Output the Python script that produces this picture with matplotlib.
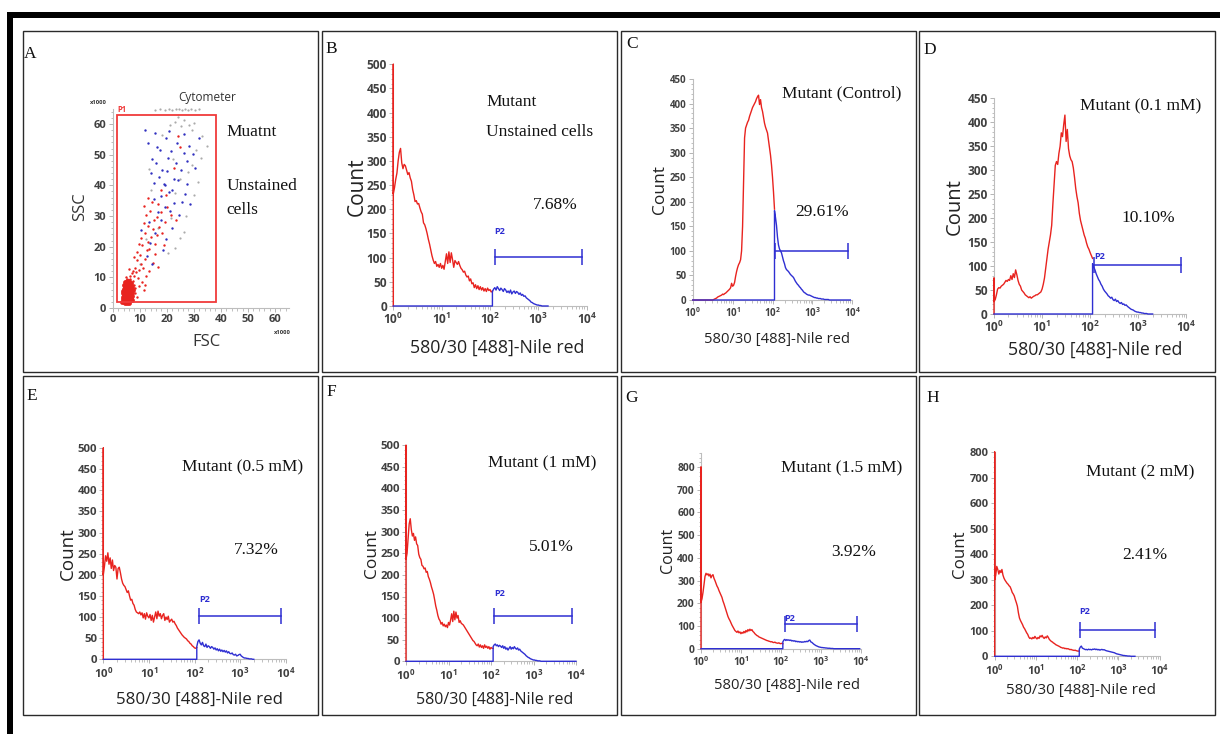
import numpy as np
import matplotlib
matplotlib.use("Agg")
import matplotlib.pyplot as plt
from matplotlib.patches import Rectangle
from matplotlib.ticker import LogLocator, MultipleLocator, FuncFormatter, NullFormatter

plt.rcParams['font.family'] = ['Open Sans', 'DejaVu Sans']
plt.rcParams['mathtext.default'] = 'regular'
SERIF = ['Liberation Serif', 'DejaVu Serif']

RED = '#e8231f'
BLUE = '#2f2fd2'
GRAY = '#ababab'

# ---------------------------------------------------------------- data ----
# Panel A: FSC / SSC events (x1000)
p1_core = [
    (3.6, 2.1), (3.9, 2.8), (4.1, 1.9), (4.3, 2.6), (4.5, 3.3), (4.7, 2.2), (4.9, 2.9), (5.1, 2.0),
    (5.3, 2.7), (5.5, 3.4), (5.7, 2.4), (5.9, 3.0), (6.1, 2.3), (6.3, 3.5), (6.6, 2.8), (6.9, 3.3),
    (3.8, 3.6), (4.0, 4.4), (4.2, 3.9), (4.4, 4.8), (4.6, 4.0), (4.8, 5.1), (5.0, 4.3), (5.2, 3.8),
    (5.4, 4.7), (5.6, 5.3), (5.8, 4.1), (6.0, 4.9), (6.2, 4.2), (6.4, 5.5), (6.7, 4.6), (7.0, 4.0),
    (7.3, 5.0), (3.9, 5.5), (4.1, 6.3), (4.4, 5.9), (4.6, 6.8), (4.9, 6.1), (5.1, 5.7), (5.3, 6.5),
    (5.5, 7.2), (5.8, 6.2), (6.0, 6.9), (6.3, 6.0), (6.6, 7.4), (6.9, 6.5), (7.2, 7.0), (7.6, 5.8),
    (4.3, 7.6), (4.7, 8.4), (5.0, 7.8), (5.4, 8.9), (5.7, 8.1), (6.1, 8.7), (6.8, 8.2),
    (4.5, 1.6), (5.2, 1.5), (6.0, 1.7), (3.7, 4.9), (4.0, 3.1), (5.0, 3.6), (5.6, 2.1), (6.4, 3.9),
    (7.1, 2.6), (4.8, 3.8), (5.5, 4.2), (6.2, 5.2), (4.2, 5.0), (5.9, 3.7), (6.8, 5.6),
]
p1_red = [
    (6.5, 9.3), (7.4, 8.8), (7.8, 7.6), (8.1, 6.6), (5.3, 9.6), (4.9, 10.2), (6.3, 10.5),
    (7.9, 10.4), (8.6, 11.6), (9.3, 9.8), (8.2, 13.2), (9.9, 12.4), (10.6, 14.3), (7.5, 12.0),
    (9.0, 15.6), (11.2, 13.1), (10.1, 17.2), (11.8, 16.0), (12.5, 18.8), (8.8, 18.4), (11.0, 20.6),
    (12.9, 21.5), (13.6, 19.4), (10.4, 22.8), (12.1, 24.5), (14.2, 23.2), (13.1, 26.6), (11.6, 27.8),
    (14.8, 25.9), (15.6, 21.0), (16.4, 23.8), (12.4, 30.2), (13.8, 31.5), (11.5, 33.4), (15.2, 28.7),
    (17.0, 26.3), (16.2, 29.8), (18.4, 24.6), (17.7, 31.2), (19.3, 28.2), (14.5, 34.5), (13.0, 35.8),
    (16.8, 34.0), (20.2, 33.0), (9.6, 7.2), (10.8, 8.5), (12.3, 10.3), (11.4, 5.8), (13.4, 12.1),
    (14.9, 14.8), (8.4, 4.9), (9.1, 3.6), (12.0, 7.4), (15.8, 17.6), (16.9, 13.5), (18.8, 20.4),
    (21.5, 30.4), (19.8, 36.8), (24.3, 56.0), (25.0, 52.5), (22.8, 45.5), (23.4, 28.7), (7.0, 11.3),
    (6.2, 12.7), (8.0, 16.5), (9.8, 20.8), (18.0, 38.5),
]
p1_blue = [
    (12.0, 58.2), (15.8, 57.2), (13.2, 53.8), (17.4, 51.6), (21.5, 51.2), (23.8, 53.8), (26.2, 50.4),
    (31.8, 55.4), (28.2, 52.8), (19.8, 55.5), (16.0, 47.2), (18.3, 45.0), (14.0, 44.0), (20.2, 44.6),
    (22.6, 42.2), (18.9, 40.3), (19.5, 40.0), (24.2, 41.6), (27.5, 40.4), (15.2, 35.4), (17.8, 36.4),
    (20.8, 37.8), (22.8, 34.4), (19.2, 32.8), (16.8, 31.2), (21.2, 31.6), (25.6, 34.6), (28.6, 33.8),
    (13.4, 28.0), (15.8, 24.5), (12.6, 16.8), (14.6, 14.2), (19.6, 22.4), (21.8, 26.2), (17.8, 28.8),
    (13.9, 21.2), (23.5, 47.2), (20.6, 48.8), (25.2, 45.0), (17.2, 42.6), (15.1, 40.8), (22.1, 38.6),
    (26.8, 37.2), (24.6, 30.4), (18.6, 18.8), (10.4, 25.6), (27.6, 47.9), (29.8, 50.2), (30.6, 45.8),
    (16.2, 52.6), (14.4, 48.5), (21.0, 57.8), (26.4, 56.6),
]
p1_gray = [
    (15.8, 64.6), (17.5, 64.9), (19.2, 64.7), (20.8, 64.9), (22.1, 64.6), (23.4, 64.8), (24.6, 64.9),
    (25.5, 64.6), (26.7, 64.8), (27.9, 64.7), (29.0, 64.9), (30.4, 64.6), (31.8, 64.8), (24.2, 62.4),
    (23.0, 60.5), (26.4, 61.3), (28.1, 59.6), (30.2, 60.4), (25.3, 59.2), (21.2, 59.8), (29.4, 58.2),
    (33.0, 56.2), (35.0, 52.8), (30.8, 51.4), (32.6, 49.0), (29.2, 46.8), (22.4, 48.6), (27.8, 44.2),
    (25.0, 42.2), (23.2, 37.5), (30.0, 36.8), (21.4, 29.4), (24.8, 22.8), (23.1, 19.6), (26.2, 24.8),
    (14.2, 38.4), (12.2, 22.5), (10.2, 14.2), (18.4, 56.4), (16.6, 26.2), (20.4, 18.0), (27.0, 30.0),
    (13.6, 45.2), (31.4, 41.0),
]
p1_gate = (1.6, 2.0, 38.2, 62.9)          # FSC lo, SSC lo, FSC hi, SSC hi

# Histograms: counts per channel, channel width 0.025 decade starting at 10^0.
# Red = all events up to the P2 gate, blue = events from the gate channel on.
LOG_STEP = 0.025
GATE_CH = 82

spike_B = 500
red_B = [232, 245, 262, 275, 300, 318, 326, 296, 284, 293, 290, 281, 272, 276, 265, 258, 241, 230,
         216, 218, 211, 212, 203, 195, 190, 172, 168, 160, 150, 138, 128, 116, 104, 95, 88, 92, 82,
         86, 80, 88, 78, 84, 76, 92, 108, 88, 112, 90, 110, 96, 80, 94, 90, 86, 92, 84, 78, 75, 70,
         72, 64, 60, 62, 52, 56, 46, 48, 38, 44, 36, 42, 34, 40, 33, 38, 31, 36, 30, 37, 32, 34, 29, 31]
blue_B = [30, 35, 38, 33, 40, 36, 32, 37, 34, 30, 36, 33, 28, 31, 27, 33, 25, 29, 31, 26, 30, 28, 24,
          27, 22, 24, 20, 21, 17, 15, 13, 11, 8, 7, 5, 4, 3, 2, 2, 1, 1, 0, 0, 0, 0, 0, 0]

spike_C = 0
red_C = [0] * 21 + [1, 2, 3, 4, 6, 7, 8, 9, 10, 12, 11, 13, 14, 16, 18, 20, 22, 25, 34, 28, 30, 36,
         48, 58, 66, 72, 76, 82, 100, 150, 240, 330, 350, 356, 362, 366, 374, 380, 386, 392, 396,
         400, 404, 410, 414, 417, 398, 408, 392, 384, 372, 360, 352, 346, 340, 325, 310, 295, 275,
         250, 220, 185]
blue_C = [182, 168, 152, 128, 112, 104, 100, 96, 88, 80, 74, 66, 62, 60, 58, 55, 52, 50, 48, 46, 42,
          38, 35, 32, 30, 27, 25, 22, 20, 17, 15, 14, 12, 11, 10, 10, 9, 8, 7, 6, 5, 5, 4, 4, 3, 3,
          3, 2, 2, 2, 1, 1, 1, 1, 1] + [0] * 22

spike_D = 75
red_D = [26, 30, 40, 52, 55, 54, 58, 60, 62, 66, 70, 68, 72, 70, 80, 72, 84, 76, 92, 82, 70, 62,
         58, 50, 47, 44, 40, 38, 36, 34, 36, 33, 35, 37, 38, 40, 40, 42, 44, 46, 52, 62, 75, 95,
         115, 135, 150, 165, 185, 230, 270, 310, 318, 312, 335, 350, 378, 370, 395, 415, 360, 385,
         345, 330, 322, 318, 305, 285, 262, 245, 232, 210, 195, 185, 175, 165, 158, 148, 140, 135,
         128, 122, 116]
blue_D = [105, 98, 92, 84, 78, 72, 68, 62, 58, 52, 48, 45, 42, 38, 36, 33, 35, 30, 28, 31, 26, 28,
          24, 22, 24, 20, 21, 18, 19, 16, 14, 12, 10, 9, 8, 6, 5, 4, 4, 3, 3, 2, 2, 1, 1, 1, 0, 0,
          0, 0, 0]

spike_E = 500
red_E = [200, 220, 245, 232, 252, 225, 240, 215, 235, 210, 222, 218, 190, 215, 218, 205, 190, 180,
         175, 172, 165, 158, 162, 150, 140, 142, 132, 128, 118, 112, 110, 108, 112, 105, 110, 98,
         108, 95, 110, 102, 98, 106, 92, 104, 88, 100, 112, 96, 114, 102, 108, 96, 104, 108, 92, 100,
         94, 102, 88, 92, 95, 88, 90, 84, 80, 74, 70, 66, 62, 58, 55, 52, 50, 48, 44, 42, 38, 36, 32,
         30, 27, 26, 28]
blue_E = [30, 42, 46, 38, 34, 40, 32, 30, 36, 28, 32, 30, 26, 30, 28, 24, 27, 22, 25, 20, 24, 19, 22,
          18, 21, 17, 20, 15, 18, 14, 13, 15, 11, 10, 12, 8, 9, 11, 12, 8, 6, 4, 3, 3, 2, 2, 1, 1, 1,
          0, 0]

spike_F = 500
red_F = [236, 250, 285, 318, 330, 305, 290, 296, 280, 288, 272, 268, 248, 240, 236, 222, 220, 214,
         216, 206, 208, 196, 190, 182, 172, 164, 155, 142, 128, 118, 106, 98, 94, 86, 90, 82, 86, 80,
         84, 78, 90, 84, 96, 110, 92, 116, 96, 114, 100, 106, 90, 94, 88, 86, 84, 80, 76, 72, 68, 64,
         60, 56, 52, 48, 46, 42, 38, 36, 40, 33, 38, 32, 36, 30, 38, 32, 35, 30, 34, 28, 32, 30, 30]
blue_F = [34, 38, 40, 36, 38, 34, 37, 35, 32, 36, 30, 34, 28, 31, 26, 30, 34, 28, 32, 29, 34, 30, 28,
          31, 26, 28, 24, 22, 20, 18, 16, 13, 11, 9, 8, 6, 5, 4, 3, 3, 2, 2, 1, 1, 1] + [0] * 34

spike_G = 800
red_G = [205, 220, 248, 282, 318, 332, 325, 330, 320, 328, 312, 322, 326, 310, 300, 288, 276, 268,
         256, 246, 236, 226, 210, 198, 184, 170, 156, 142, 132, 124, 114, 104, 96, 88, 80, 76, 72,
         78, 70, 74, 66, 72, 68, 76, 70, 80, 74, 84, 78, 86, 80, 84, 76, 72, 66, 62, 58, 56, 52, 50,
         48, 46, 44, 42, 40, 38, 36, 35, 33, 32, 30, 31, 28, 27, 29, 26, 25, 24, 26, 23, 22, 24, 22]
blue_G = [30, 38, 41, 36, 40, 37, 39, 36, 38, 34, 36, 33, 35, 31, 33, 30, 32, 29, 31, 28, 30, 29, 32,
          30, 33, 31, 36, 38, 30, 28, 24, 20, 17, 14, 12, 10, 8, 7, 6, 5, 5, 4, 4, 3, 3, 2, 2, 2, 1,
          1, 1] + [0] * 27

spike_H = 800
red_H = [300, 318, 352, 340, 322, 336, 328, 340, 318, 306, 298, 292, 286, 282, 276, 272, 262, 250,
         244, 236, 222, 210, 196, 170, 150, 140, 132, 124, 114, 108, 100, 92, 86, 76, 70, 72, 68, 74,
         70, 78, 72, 68, 74, 70, 80, 76, 82, 74, 70, 76, 72, 80, 74, 66, 62, 58, 56, 52, 50, 46, 44,
         42, 40, 38, 35, 34, 32, 33, 30, 31, 29, 30, 28, 26, 27, 25, 24, 23, 24, 22, 21, 20, 21]
blue_H = [28, 36, 40, 32, 30, 28, 26, 27, 25, 28, 26, 27, 25, 28, 27, 29, 26, 28, 25, 27, 24, 26, 27,
          25, 26, 24, 22, 21, 20, 19, 18, 17, 16, 15, 14, 12, 10, 9, 8, 7, 6, 5, 4, 3, 3, 2, 2, 1, 1,
          1, 0, 0, 0, 0, 0]

# P2 gate (lower bound, upper bound, drawn level) for each histogram
gates = {
    'B': (126, 7900, 101), 'C': (115, 7800, 100), 'D': (120, 7800, 102), 'E': (126, 7800, 102),
    'F': (120, 7900, 104), 'G': (126, 7900, 107), 'H': (120, 7600, 104),
}
titles = {
    'B': ['Mutant', 'Unstained cells'], 'C': ['Mutant (Control)'], 'D': ['Mutant (0.1 mM)'],
    'E': ['Mutant (0.5 mM)'], 'F': ['Mutant (1 mM)'], 'G': ['Mutant (1.5 mM)'], 'H': ['Mutant (2 mM)'],
}
percents = {'B': '7.68%', 'C': '29.61%', 'D': '10.10%', 'E': '7.32%',
            'F': '5.01%', 'G': '3.92%', 'H': '2.41%'}
hist_data = {
    'B': (spike_B, red_B, blue_B), 'C': (spike_C, red_C, blue_C), 'D': (spike_D, red_D, blue_D),
    'E': (spike_E, red_E, blue_E), 'F': (spike_F, red_F, blue_F), 'G': (spike_G, red_G, blue_G),
    'H': (spike_H, red_H, blue_H),
}
XLABEL = '580/30 [488]-Nile red'

# -------------------------------------------------------------- layout ----
W, H = 1220, 734
fig = plt.figure(figsize=(W / 100, H / 100), dpi=100)


def fx(x):
    return x / W


def fy(y):
    return 1 - y / H


def axes_px(x0, x1, ytop, ybot):
    return fig.add_axes([fx(x0), fy(ybot), (x1 - x0) / W, (ybot - ytop) / H])


def ftext(x, y, s, **kw):
    return fig.text(fx(x), fy(y), s, **kw)


# outer black frame (top and left)
fig.patches.append(Rectangle((fx(7), fy(18)), (W - 7) / W, 6 / H, transform=fig.transFigure,
                             facecolor='black', edgecolor='none'))
fig.patches.append(Rectangle((fx(7), 0), 6 / W, fy(12), transform=fig.transFigure,
                             facecolor='black', edgecolor='none'))

# panel frames
col_x = [(23, 318), (322, 617), (621, 916), (919, 1215)]
row_y = [(31, 372), (376, 715)]
for (y0, y1) in row_y:
    for (x0, x1) in col_x:
        fig.patches.append(Rectangle((fx(x0), fy(y1)), (x1 - x0) / W, (y1 - y0) / H,
                                     transform=fig.transFigure, facecolor='none',
                                     edgecolor='#2a2a2a', linewidth=1.0))

letters = {'A': (30, 54), 'B': (331, 49), 'C': (632, 44), 'D': (930, 50),
           'E': (32, 396), 'F': (331, 392), 'G': (632, 398), 'H': (933, 398)}
for k, (x, y) in letters.items():
    ftext(x, y, k, family=SERIF, fontsize=12.5, ha='center', va='center', color='#111')


def style_axis(ax, tick_fs):
    for s in ('top', 'right'):
        ax.spines[s].set_visible(False)
    for s in ('left', 'bottom'):
        ax.spines[s].set_color('#bdbdbd')
        ax.spines[s].set_linewidth(0.8)
    ax.tick_params(which='major', length=3, width=0.6, color='#a8a8a8', pad=1.5,
                   labelsize=tick_fs, labelcolor='#404040')
    ax.tick_params(which='minor', length=1.8, width=0.6, color='#b5b5b5')
    for lbl in ax.get_xticklabels() + ax.get_yticklabels():
        lbl.set_fontweight('bold')


# ---------------------------------------------------------- panel A ----
axA = axes_px(112.7, 288.5, 108.7, 308)
axA.set_xlim(0, 65)
axA.set_ylim(0, 65)
axA.xaxis.set_major_locator(MultipleLocator(10))
axA.yaxis.set_major_locator(MultipleLocator(10))
axA.xaxis.set_minor_locator(MultipleLocator(2))
axA.yaxis.set_minor_locator(MultipleLocator(2))
style_axis(axA, 8)
for pts, c, s in ((p1_gray, GRAY, 2.5), (p1_red, RED, 3), (p1_blue, '#3030c0', 3),
                  (p1_core, RED, 12)):
    arr = np.array(pts)
    axA.scatter(arr[:, 0], arr[:, 1], s=s, color=c, linewidths=0, clip_on=False)
gx0, gy0, gx1, gy1 = p1_gate
axA.add_patch(Rectangle((gx0, gy0), gx1 - gx0, gy1 - gy0, facecolor='none', edgecolor='#f03a3a',
                        linewidth=1.3))
axA.text(gx0 + 0.3, gy1 + 0.4, 'P1', color='#f03a3a', fontsize=5.5, fontweight='bold',
         ha='left', va='bottom')
ftext(207, 98, 'Cytometer', fontsize=8.5, ha='center', va='center', color='#333')
ftext(98, 102, 'x1000', fontsize=4.2, fontweight='bold', ha='center', va='center', color='#333')
ftext(282, 332, 'x1000', fontsize=4.2, fontweight='bold', ha='center', va='center', color='#333')
ftext(80, 207, 'SSC', fontsize=12, rotation=90, ha='center', va='center', color='#333')
ftext(207, 342, 'FSC', fontsize=12, ha='center', va='center', color='#333')
ftext(226.7, 132, 'Muatnt', family=SERIF, fontsize=12.5, ha='left', va='center', color='#111')
ftext(226.7, 186, 'Unstained', family=SERIF, fontsize=12.5, ha='left', va='center', color='#111')
ftext(226.7, 210, 'cells', family=SERIF, fontsize=12.5, ha='left', va='center', color='#111')

# ------------------------------------------------------ histograms ----
hist_layout = {
    # axes: x of 10^0, x of 10^4, y of ymax, y of 0 ; ymax, major, minor step
    'B': dict(axes=(393.3, 586.7, 64.3, 306), ymax=500, major=50, minor=10, tick_fs=8.6,
              count=(357, 187, 15), xlab=(497, 348, 12.8), title=(486, 102), title2=132,
              pct=(555, 205), p2=(500, 232)),
    'C': dict(axes=(692.7, 852.3, 79, 300), ymax=450, major=50, minor=10, tick_fs=7.0,
              count=(660, 190, 12.5), xlab=(777, 340, 10.6), title=(782, 93),
              pct=(822, 212), p2=None),
    'D': dict(axes=(994, 1186.3, 98.3, 314), ymax=450, major=50, minor=10, tick_fs=8.6,
              count=(954.7, 206.7, 14.5), xlab=(1094.7, 350, 12.8), title=(1079.7, 106.7),
              pct=(1148, 218), p2=(1099.7, 256.7)),
    'E': dict(axes=(103.3, 285.7, 448, 659.3), ymax=500, major=50, minor=10, tick_fs=8.2,
              count=(68.3, 553.7, 13.5), xlab=(200, 700, 12.2), title=(181.7, 467),
              pct=(256.7, 550.3), p2=(205, 599.7)),
    'F': dict(axes=(406, 576, 445.3, 661.3), ymax=500, major=50, minor=10, tick_fs=8.2,
              count=(371.7, 553.7, 12.5), xlab=(495, 700.3, 11.5), title=(488.3, 463.7),
              pct=(551.7, 547), p2=(499.3, 593.7)),
    'G': dict(axes=(701, 860.7, 453.4, 648.7), ymax=860, major=100, minor=20, tick_fs=7.4,
              count=(668, 550.3, 11.5), xlab=(786.7, 685.3, 10.6), title=(781, 468.7),
              pct=(853.3, 552), p2=(790, 618.7)),
    'H': dict(axes=(994.7, 1159.7, 452, 656.3), ymax=800, major=100, minor=20, tick_fs=8,
              count=(960, 553.7, 12.2), xlab=(1081.3, 690.3, 11), title=(1086.3, 472),
              pct=(1144.7, 555.3), p2=(1084.7, 612)),
}

decade_fmt = FuncFormatter(lambda v, pos: r'$10^{%d}$' % int(round(np.log10(v))))

for key, lay in hist_layout.items():
    ax = axes_px(*lay['axes'])
    spike, red, blue = hist_data[key]
    ax.set_xscale('log')
    ax.set_xlim(1, 1e4)
    ax.set_ylim(0, lay['ymax'])
    ax.xaxis.set_major_locator(LogLocator(base=10, numticks=10))
    ax.xaxis.set_minor_locator(LogLocator(base=10, subs=np.arange(2, 10), numticks=10))
    ax.xaxis.set_major_formatter(decade_fmt)
    ax.xaxis.set_minor_formatter(NullFormatter())
    ax.yaxis.set_major_locator(MultipleLocator(lay['major']))
    ax.yaxis.set_minor_locator(MultipleLocator(lay['minor']))
    style_axis(ax, lay['tick_fs'])

    red_log = np.arange(len(red)) * LOG_STEP
    rx = 10 ** np.concatenate([[0.0, 0.0], red_log])
    ry = np.concatenate([[0, spike], red])
    ax.plot(rx, ry, color=RED, lw=1.0, clip_on=False, zorder=3)

    gate_log = GATE_CH * LOG_STEP
    blue_log = gate_log + np.arange(len(blue)) * LOG_STEP
    bx = 10 ** np.concatenate([[0.0, gate_log], blue_log])
    by = np.concatenate([[0, 0], blue])
    ax.plot(bx, by, color=BLUE, lw=1.0, clip_on=False, zorder=4)

    lo, hi, lvl = gates[key]
    ax.plot([lo, hi], [lvl, lvl], color=BLUE, lw=1.1, marker='|', ms=12, mew=1.1, zorder=5)

    cx, cy, cfs = lay['count']
    ftext(cx, cy, 'Count', fontsize=cfs, rotation=90, ha='center', va='center', color='#222')
    lx, ly, lfs = lay['xlab']
    ftext(lx, ly, XLABEL, fontsize=lfs, ha='center', va='center', color='#222')
    tx, ty = lay['title']
    ftext(tx, ty, titles[key][0], family=SERIF, fontsize=12.5, ha='left', va='center', color='#111')
    if len(titles[key]) > 1:
        ftext(tx, lay['title2'], titles[key][1], family=SERIF, fontsize=12.5, ha='left',
              va='center', color='#111')
    px, py = lay['pct']
    ftext(px, py, percents[key], family=SERIF, fontsize=12.5, ha='center', va='center',
          color='#111')
    if lay['p2'] is not None:
        qx, qy = lay['p2']
        ftext(qx, qy, 'P2', fontsize=6.5, fontweight='bold', ha='center', va='center', color=BLUE)

fig.savefig('out.png', dpi=100, facecolor='white')
